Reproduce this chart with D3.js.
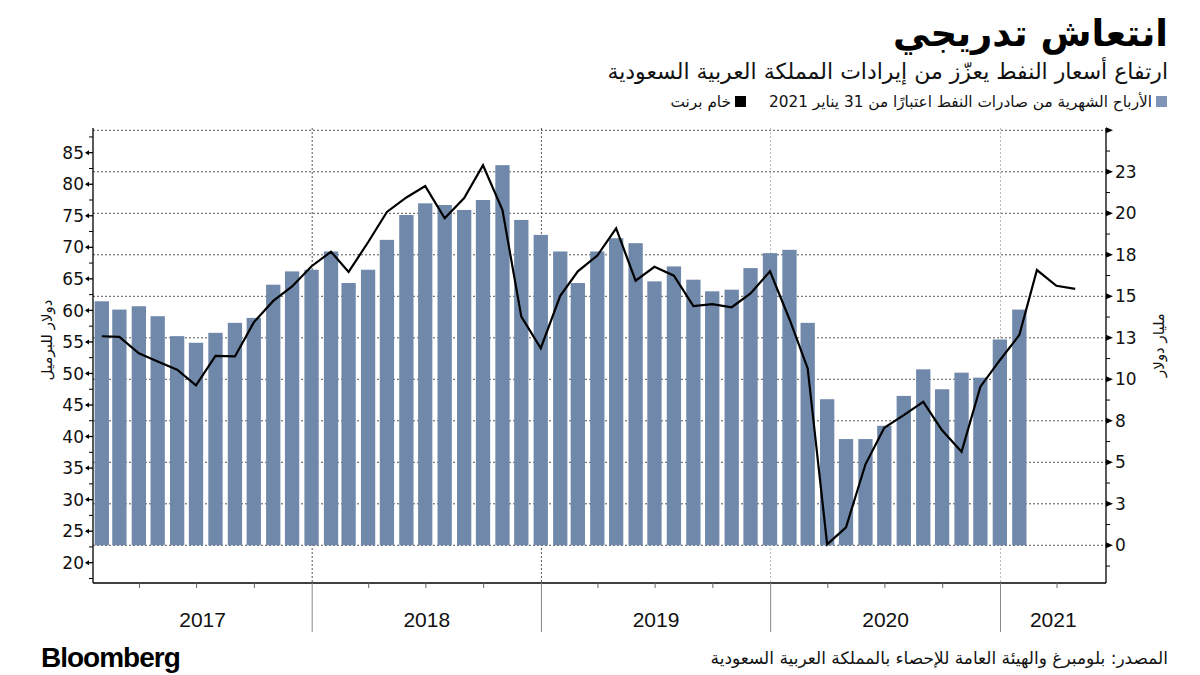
<!DOCTYPE html>
<html><head><meta charset="utf-8">
<script src="https://cdn.jsdelivr.net/npm/d3@7"></script>
<style>
body{margin:0;background:#fff;}
svg{display:block;}
</style></head>
<body>
<svg id="c" width="1200" height="675"></svg>
<script>
// ---------- DATA ----------
const months = ["2017-01","2017-02","2017-03","2017-04","2017-05","2017-06","2017-07","2017-08","2017-09","2017-10","2017-11","2017-12",
"2018-01","2018-02","2018-03","2018-04","2018-05","2018-06","2018-07","2018-08","2018-09","2018-10","2018-11","2018-12",
"2019-01","2019-02","2019-03","2019-04","2019-05","2019-06","2019-07","2019-08","2019-09","2019-10","2019-11","2019-12",
"2020-01","2020-02","2020-03","2020-04","2020-05","2020-06","2020-07","2020-08","2020-09","2020-10","2020-11","2020-12",
"2021-01","2021-02","2021-03","2021-04"];
// monthly oil export revenue (bn USD), right axis
const revenue = [14.7,14.2,14.4,13.8,12.6,12.2,12.8,13.4,13.7,15.7,16.5,16.6,
17.7,15.8,16.6,18.4,19.9,20.6,20.5,20.2,20.8,22.9,19.6,18.7,
17.7,15.8,17.7,18.5,18.2,15.9,16.8,16.0,15.3,15.4,16.7,17.6,
17.8,13.4,8.8,6.4,6.4,7.2,9.0,10.6,9.4,10.4,10.1,12.4,
14.2];
// Brent crude (USD/bbl), left axis
const brent = [55.9,55.8,53.2,51.9,50.6,48.1,52.8,52.7,58.1,61.5,63.8,67.0,
69.3,66.1,70.8,75.6,77.9,79.7,74.6,77.8,83.0,75.9,59.0,54.0,
62.3,66.2,68.7,73.0,64.7,66.9,65.5,60.7,61.0,60.5,62.7,66.2,
58.6,50.8,22.9,25.6,35.6,41.4,43.4,45.5,41.0,37.6,47.9,52.1,
56.1,66.4,63.9,63.4];
const leftTicks = [20,25,30,35,40,45,50,55,60,65,70,75,80,85];
const rightTicks = [0,2.5,5,7.5,10,12.5,15,17.5,20,22.5,25];
const rightTickLabels = ["0","3","5","8","10","13","15","18","20","23",""];
const years = [2017,2018,2019,2020,2021];

const title = "انتعاش تدريجي";
const subtitle = "ارتفاع أسعار النفط  يعزّز من إيرادات المملكة العربية السعودية";
const legendRevenue = "الأرباح الشهرية من صادرات النفط اعتبارًا من 31 يناير 2021";
const legendBrent = "خام برنت";
const leftLabel = "دولار للبرميل";
const rightLabel = "مليار دولار";
const source = "المصدر: بلومبرغ والهيئة العامة للإحصاء بالمملكة العربية السعودية";

// ---------- LAYOUT ----------
const L = 93, R = 1106, T = 128, B = 583;
const barColor = "#7089ab";
const svg = d3.select("#c");
const parse = d3.timeParse("%Y-%m");
const monthEnd = s => d3.timeDay.offset(d3.timeMonth.offset(parse(s),1),-1);

const x = d3.scaleTime().domain([new Date(2017,0,17), new Date(2021,5,18)]).range([L,R]);
const yL = d3.scaleLinear().domain([20,85]).range([562.7,152.7]);
const yR = d3.scaleLinear().domain([0,25]).range([545.3,130.3]);
const bw = 14.3;

// gridlines (horizontal)
svg.append("g").selectAll("line").data(rightTicks).join("line")
  .attr("x1",L).attr("x2",R).attr("y1",d=>yR(d)).attr("y2",d=>yR(d))
  .attr("stroke","#555").attr("stroke-width",1).attr("stroke-dasharray","2,2");
// vertical gridlines at year boundaries
svg.append("g").selectAll("line").data(years.slice(1)).join("line")
  .attr("x1",d=>x(new Date(d,0,1))).attr("x2",d=>x(new Date(d,0,1)))
  .attr("y1",T).attr("y2",B)
  .attr("stroke",(d,i)=> i<2 ? "#555" : "#bbb").attr("stroke-width",1).attr("stroke-dasharray","2,2");

// bars
svg.append("g").selectAll("rect").data(revenue).join("rect")
  .attr("x",(d,i)=>Math.max(L+0.5, x(monthEnd(months[i])) - bw/2))
  .attr("width",(d,i)=>{const x0=x(monthEnd(months[i]))-bw/2; return bw-Math.max(0,L+0.5-x0);})
  .attr("y",d=>yR(d)).attr("height",d=>yR(0)-yR(d))
  .attr("fill",barColor);

// line
const line = d3.line().x((d,i)=>x(monthEnd(months[i]))).y(d=>yL(d));
svg.append("path").datum(brent).attr("d",line)
  .attr("fill","none").attr("stroke","#000").attr("stroke-width",2.2).attr("stroke-linejoin","miter");

// axes lines
const ax = svg.append("g").attr("stroke","#000").attr("stroke-width",1.3);
ax.append("line").attr("x1",L).attr("x2",L).attr("y1",T).attr("y2",B);
ax.append("line").attr("x1",R).attr("x2",R).attr("y1",T).attr("y2",B);
ax.append("line").attr("x1",L).attr("x2",R).attr("y1",B).attr("y2",B);

// left ticks
const gl = svg.append("g");
gl.selectAll("line.minor").data(leftTicks.map(d=>d-2.5).concat([leftTicks[leftTicks.length-1]+2.5])).join("line")
  .attr("x1",L-4).attr("x2",L).attr("y1",d=>yL(d)).attr("y2",d=>yL(d)).attr("stroke","#000");
gl.selectAll("line.major").data(leftTicks).join("line")
  .attr("x1",L-7).attr("x2",L).attr("y1",d=>yL(d)).attr("y2",d=>yL(d)).attr("stroke","#000").attr("stroke-width",1.3);
gl.selectAll("path").data(leftTicks).join("path")
  .attr("d",d=>`M${L-8},${yL(d)} L${L-4},${yL(d)-2.5} L${L-4},${yL(d)+2.5} Z`).attr("fill","#000");
gl.selectAll("text").data(leftTicks).join("text")
  .attr("x",L-9).attr("y",d=>yL(d)).attr("dy","0.36em").attr("text-anchor","end")
  .attr("font-family","DejaVu Sans").attr("font-size",17).attr("fill","#111").text(d=>d);

// right ticks
const gr = svg.append("g");
gr.selectAll("line.minor").data(rightTicks.map(d=>d-1.25)).join("line")
  .attr("x1",R).attr("x2",R+4).attr("y1",d=>yR(d)).attr("y2",d=>yR(d)).attr("stroke","#000");
gr.selectAll("path").data(rightTicks).join("path")
  .attr("d",d=>`M${R},${yR(d)-3} L${R+7},${yR(d)} L${R},${yR(d)+3} Z`).attr("fill","#000");
gr.selectAll("text").data(rightTicks).join("text")
  .attr("x",R+9).attr("y",d=>yR(d)).attr("dy","0.36em").attr("text-anchor","start")
  .attr("font-family","DejaVu Sans").attr("font-size",17).attr("fill","#111").text((d,i)=>rightTickLabels[i]);

// x axis: quarter ticks, year separators, year labels
const quarters = d3.timeMonth.every(3).range(x.domain()[0], x.domain()[1]).filter(d=>d.getMonth()!==0);
svg.append("g").selectAll("line").data(quarters).join("line")
  .attr("x1",d=>x(d)).attr("x2",d=>x(d)).attr("y1",B).attr("y2",B+5).attr("stroke","#666");
svg.append("g").selectAll("line").data(years.slice(1)).join("line")
  .attr("x1",d=>x(new Date(d,0,1))).attr("x2",d=>x(new Date(d,0,1)))
  .attr("y1",B).attr("y2",632).attr("stroke","#888").attr("stroke-width",1);
svg.append("g").selectAll("text").data(years).join("text")
  .attr("x",d=>{const a=Math.max(L,x(new Date(d,0,1))), b=Math.min(R,x(new Date(d+1,0,1))); return (a+b)/2;})
  .attr("y",627).attr("text-anchor","middle")
  .attr("font-family","Liberation Sans").attr("font-size",21).attr("fill","#111").text(d=>d);

// axis titles
svg.append("text").attr("transform","translate(52,340) rotate(-90)").attr("text-anchor","middle")
  .attr("font-family","DejaVu Sans").attr("font-size",15).attr("fill","#111").text(leftLabel);
svg.append("text").attr("transform","translate(1164,345) rotate(-90)").attr("text-anchor","middle")
  .attr("font-family","DejaVu Sans").attr("font-size",15).attr("fill","#111").text(rightLabel);

// titles
svg.append("text").attr("x",1168).attr("y",46).attr("text-anchor","end")
  .attr("font-family","DejaVu Sans").attr("font-weight","bold").attr("font-size",37).attr("fill","#000").text(title);
svg.append("text").attr("x",1168).attr("y",79).attr("text-anchor","end")
  .attr("font-family","DejaVu Sans").attr("font-size",22).attr("fill","#111").text(subtitle);

// legend
svg.append("rect").attr("x",1156).attr("y",96).attr("width",11).attr("height",11).attr("fill","#8094b8");
svg.append("text").attr("x",1152).attr("y",107).attr("text-anchor","end")
  .attr("font-family","DejaVu Sans").attr("font-size",15.3).attr("fill","#111").text(legendRevenue);
svg.append("rect").attr("x",735).attr("y",96).attr("width",11).attr("height",11).attr("fill","#000");
svg.append("text").attr("x",731).attr("y",107).attr("text-anchor","end")
  .attr("font-family","DejaVu Sans").attr("font-size",15.3).attr("fill","#111").text(legendBrent);

// footer
svg.append("text").attr("x",41).attr("y",667).attr("font-family","Liberation Sans").attr("font-weight","bold")
  .attr("font-size",28).attr("letter-spacing",-1).attr("fill","#000").text("Bloomberg");
svg.append("text").attr("x",1168).attr("y",664).attr("text-anchor","end")
  .attr("font-family","DejaVu Sans").attr("font-size",17).attr("fill","#111").text(source);
</script>
</body></html>
